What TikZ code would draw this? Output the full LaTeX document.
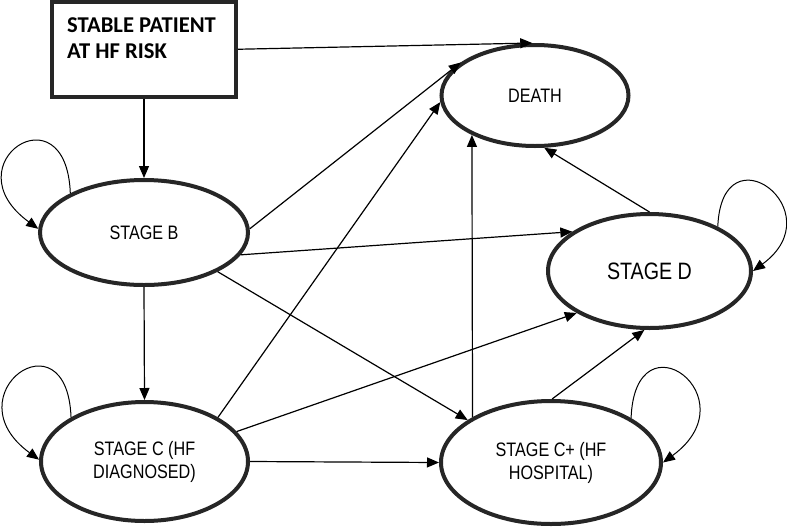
\documentclass[tikz,border=0pt]{standalone}
\usepackage{fontspec}
\usetikzlibrary{arrows.meta,shapes.geometric}
\newfontfamily\nodefont[FakeStretch=0.83]{Liberation Sans}
\newfontfamily\boxfont{Carlito}
\begin{document}
\begin{tikzpicture}[x=1pt,y=-1pt,
  state/.style={ellipse,draw=black!85,line width=4pt,fill=white,inner sep=0pt,align=center,
    font=\nodefont\fontsize{19.5}{23}\selectfont},
  startbox/.style={rectangle,draw=black!85,line width=4pt,fill=white,inner sep=0pt},
  boxtext/.style={anchor=north west,inner sep=0pt,align=left,
    font=\boxfont\bfseries\fontsize{22.6}{26}\selectfont},
  arr/.style={-{Triangle[length=12pt,width=10pt]},line width=1.2pt,black},
  looparr/.style={-{Triangle[length=12pt,width=10pt]},line width=1pt,black}]
\useasboundingbox (0,0) rectangle (787,528);

% nodes
\node[startbox,minimum width=184pt,minimum height=94.5pt] (start) at (144,49.25) {};
\node[boxtext] (starttext) at ([xshift=17pt,yshift=-17pt]start.north west) {STABLE PATIENT\\AT HF RISK};
\node[state,minimum width=187pt,minimum height=101pt] (death) at (535,95.5) {DEATH};
\node[state,minimum width=208pt,minimum height=105pt] (B) at (144,232.5) {STAGE B};
\node[state,minimum width=203pt,minimum height=114pt,font=\nodefont\fontsize{23.7}{28}\selectfont] (D) at (649.5,271) {STAGE D};
\node[state,minimum width=207pt,minimum height=119pt] (C) at (144.5,461.5) {STAGE C (HF\\DIAGNOSED)};
\node[state,minimum width=220pt,minimum height=123pt] (Cp) at (551,462.5) {STAGE C+ (HF\\HOSPITAL)};

% connectors
\draw[arr] (start.south) -- (B.north);
\draw[arr] (start.east) -- (death.93);
\draw[arr] (B.2) -- (death.156);
\draw[arr] (B.-13) -- (D.153);
\draw[arr] (B.-28) -- (Cp.153);
\draw[arr] (B.south) -- (C.north);
\draw[arr] (C.31) -- (death.184);
\draw[arr] (C.18) -- (D.210);
\draw[arr] (C.east) -- (Cp.west);
\draw[arr] (Cp.150) -- (death.212);
\draw[arr] (Cp.89) -- (D.265);
\draw[arr] (D.north) -- (death.280);

% self loops
\draw[looparr] (B.152) .. controls +(-4,-107) and +(-89,-65) .. (B.178);
\draw[looparr] (C.149) .. controls +(-4,-107) and +(-89,-65) .. (C.179);
\draw[looparr] (D.33) .. controls +(4,-100) and +(82,-60) .. (D.east);
\draw[looparr] (Cp.29) .. controls +(4,-107) and +(89,-65) .. (Cp.east);
\end{tikzpicture}
\end{document}
